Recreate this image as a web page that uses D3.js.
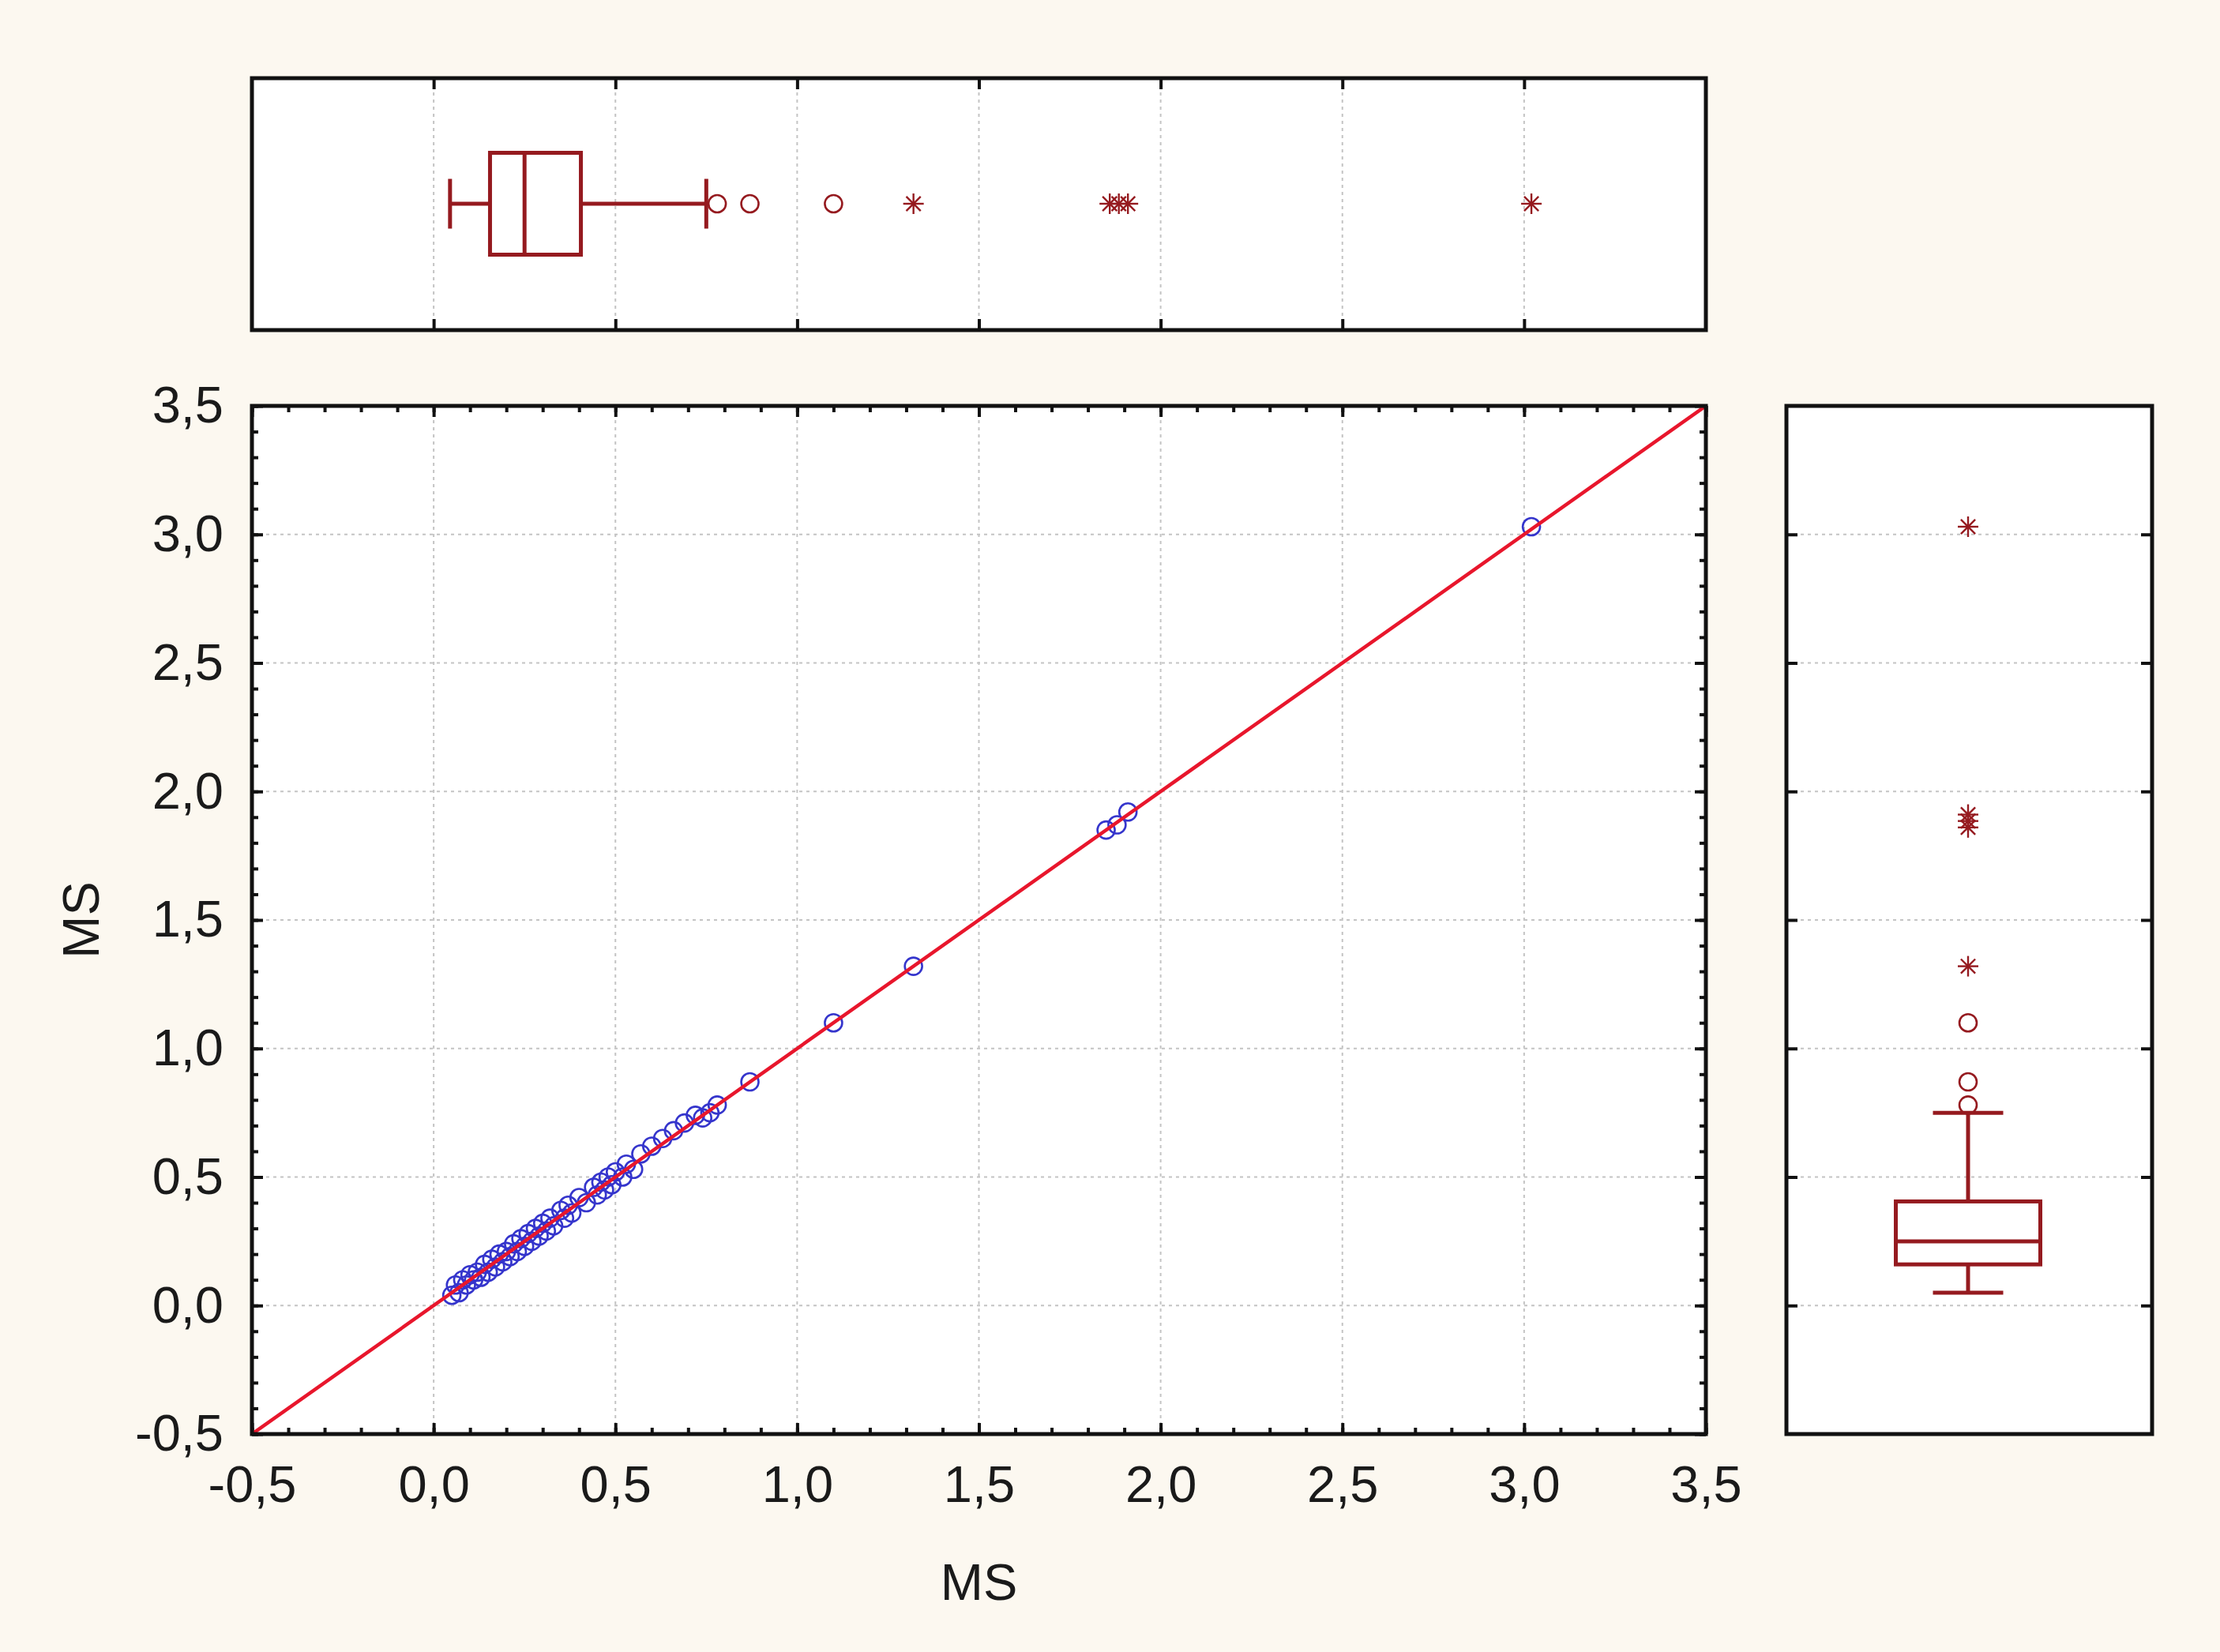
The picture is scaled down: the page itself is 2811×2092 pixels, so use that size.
<!DOCTYPE html>
<html>
<head>
<meta charset="utf-8">
<script src="https://cdn.jsdelivr.net/npm/d3@7"></script>
<style>
  body { margin: 0; background: #fcf8f0; }
  svg { display: block; }
  text { font-family: "Liberation Sans", Arial, sans-serif; fill: #1a1a1a; }
</style>
</head>
<body>
<div id="chart"></div>
<script>
// scatter points (MS vs MS)
const msX = [0.05, 0.06, 0.07, 0.08, 0.09, 0.10, 0.11, 0.12, 0.13, 0.14, 0.15, 0.16, 0.17, 0.18, 0.19,
  0.20, 0.21, 0.22, 0.23, 0.24, 0.25, 0.26, 0.27, 0.28, 0.29, 0.30, 0.31, 0.32, 0.33, 0.35, 0.36,
  0.37, 0.38, 0.40, 0.42, 0.44, 0.45, 0.46, 0.47, 0.48, 0.49, 0.50, 0.52, 0.53, 0.55, 0.57, 0.60,
  0.63, 0.66, 0.69, 0.72, 0.74, 0.76, 0.78, 0.87, 1.10, 1.32, 1.85, 1.88, 1.91, 3.02];
const msY = [0.04, 0.08, 0.05, 0.10, 0.08, 0.12, 0.10, 0.13, 0.11, 0.16, 0.13, 0.18, 0.15, 0.20, 0.17,
  0.21, 0.19, 0.24, 0.21, 0.26, 0.23, 0.28, 0.25, 0.30, 0.27, 0.32, 0.29, 0.34, 0.31, 0.37, 0.34,
  0.39, 0.36, 0.42, 0.40, 0.46, 0.43, 0.48, 0.45, 0.50, 0.47, 0.52, 0.50, 0.55, 0.53, 0.59, 0.62,
  0.65, 0.68, 0.71, 0.74, 0.73, 0.75, 0.78, 0.87, 1.10, 1.32, 1.85, 1.87, 1.92, 3.03];

// box plot summaries: [whisker low, q1, median, q3, whisker high]
const boxX = [0.045, 0.155, 0.25, 0.405, 0.75];
const boxY = [0.05, 0.16, 0.25, 0.405, 0.75];
const outliersX = [0.78, 0.87, 1.10];
const outliersY = [0.78, 0.87, 1.10];
const extremesX = [1.32, 1.86, 1.885, 1.91, 3.02];
const extremesY = [1.32, 1.86, 1.885, 1.91, 3.03];

const axisDomain = [-0.5, 3.5];
const majorTicks = [-0.5, 0, 0.5, 1, 1.5, 2, 2.5, 3, 3.5];
const gridTicks = [0, 0.5, 1, 1.5, 2, 2.5, 3];
const tickLabels = ["-0,5", "0,0", "0,5", "1,0", "1,5", "2,0", "2,5", "3,0", "3,5"];
const xTitle = "MS";
const yTitle = "MS";

const width = 2811, height = 2092;
const main = { left: 319, right: 2160, top: 514, bottom: 1816 };
const topPanel = { top: 99, bottom: 418 };
const sidePanel = { left: 2262, right: 2725 };

const boxRed = "#951a1f";
const fontSize = 65;

const svg = d3.select("#chart").append("svg")
  .attr("width", width).attr("height", height);

svg.append("rect").attr("width", width).attr("height", height).attr("fill", "#fcf8f0");

const x = d3.scaleLinear().domain(axisDomain).range([main.left, main.right]);
const y = d3.scaleLinear().domain(axisDomain).range([main.bottom, main.top]);
const minorTicks = d3.range(-0.5, 3.5001, 0.1).map((d) => +d.toFixed(2));
const fmt = (d) => tickLabels[majorTicks.indexOf(d)];

// panel backgrounds
svg.append("rect").attr("x", main.left).attr("y", main.top)
  .attr("width", main.right - main.left).attr("height", main.bottom - main.top).attr("fill", "#fff");
svg.append("rect").attr("x", main.left).attr("y", topPanel.top)
  .attr("width", main.right - main.left).attr("height", topPanel.bottom - topPanel.top).attr("fill", "#fff");
svg.append("rect").attr("x", sidePanel.left).attr("y", main.top)
  .attr("width", sidePanel.right - sidePanel.left).attr("height", main.bottom - main.top).attr("fill", "#fff");

// grid lines
const grid = svg.append("g").attr("stroke", "#c4c4c4").attr("stroke-width", 2)
  .attr("stroke-dasharray", "4,5");
gridTicks.forEach((t) => {
  grid.append("line").attr("x1", x(t)).attr("x2", x(t)).attr("y1", main.top).attr("y2", main.bottom);
  grid.append("line").attr("x1", main.left).attr("x2", main.right).attr("y1", y(t)).attr("y2", y(t));
  grid.append("line").attr("x1", x(t)).attr("x2", x(t)).attr("y1", topPanel.top).attr("y2", topPanel.bottom);
  grid.append("line").attr("x1", sidePanel.left).attr("x2", sidePanel.right).attr("y1", y(t)).attr("y2", y(t));
});

// axes helper
function styleAxis(g) {
  g.select(".domain").remove();
  g.selectAll(".tick line").attr("stroke", "#111").attr("stroke-width", 4);
  g.selectAll("text").attr("font-size", fontSize).attr("fill", "#1a1a1a")
    .attr("font-family", "'Liberation Sans', Arial, sans-serif");
}

// main plot: bottom axis with labels
svg.append("g").attr("transform", `translate(0,${main.bottom})`)
  .call(d3.axisBottom(x).tickValues(majorTicks).tickSize(-14).tickPadding(40).tickFormat(fmt))
  .call(styleAxis);
svg.append("g").attr("transform", `translate(0,${main.bottom})`)
  .call(d3.axisBottom(x).tickValues(minorTicks).tickSize(-8).tickFormat(""))
  .call(styleAxis);
// main plot: left axis with labels
svg.append("g").attr("transform", `translate(${main.left},0)`)
  .call(d3.axisLeft(y).tickValues(majorTicks).tickSize(-14).tickPadding(36).tickFormat(fmt))
  .call(styleAxis);
svg.append("g").attr("transform", `translate(${main.left},0)`)
  .call(d3.axisLeft(y).tickValues(minorTicks).tickSize(-8).tickFormat(""))
  .call(styleAxis);
// main plot: top and right ticks
svg.append("g").attr("transform", `translate(0,${main.top})`)
  .call(d3.axisTop(x).tickValues(majorTicks).tickSize(-14).tickFormat(""))
  .call(styleAxis);
svg.append("g").attr("transform", `translate(0,${main.top})`)
  .call(d3.axisTop(x).tickValues(minorTicks).tickSize(-8).tickFormat(""))
  .call(styleAxis);
svg.append("g").attr("transform", `translate(${main.right},0)`)
  .call(d3.axisRight(y).tickValues(majorTicks).tickSize(-14).tickFormat(""))
  .call(styleAxis);
svg.append("g").attr("transform", `translate(${main.right},0)`)
  .call(d3.axisRight(y).tickValues(minorTicks).tickSize(-8).tickFormat(""))
  .call(styleAxis);

// top panel ticks
svg.append("g").attr("transform", `translate(0,${topPanel.top})`)
  .call(d3.axisTop(x).tickValues(gridTicks).tickSize(-14).tickFormat(""))
  .call(styleAxis);
svg.append("g").attr("transform", `translate(0,${topPanel.bottom})`)
  .call(d3.axisBottom(x).tickValues(gridTicks).tickSize(-14).tickFormat(""))
  .call(styleAxis);
// side panel ticks
svg.append("g").attr("transform", `translate(${sidePanel.left},0)`)
  .call(d3.axisLeft(y).tickValues(gridTicks).tickSize(-14).tickFormat(""))
  .call(styleAxis);
svg.append("g").attr("transform", `translate(${sidePanel.right},0)`)
  .call(d3.axisRight(y).tickValues(gridTicks).tickSize(-14).tickFormat(""))
  .call(styleAxis);

// clip for the main panel
svg.append("clipPath").attr("id", "mainClip").append("rect")
  .attr("x", main.left).attr("y", main.top)
  .attr("width", main.right - main.left).attr("height", main.bottom - main.top);

// scatter points
const points = msX.map((d, i) => ({ x: d, y: msY[i] }));
svg.append("g").attr("clip-path", "url(#mainClip)")
  .selectAll("circle").data(points).enter().append("circle")
  .attr("cx", (d) => x(d.x)).attr("cy", (d) => y(d.y)).attr("r", 11)
  .attr("fill", "none").attr("stroke", "#3535cc").attr("stroke-width", 2.6);

// identity line
const line = d3.line().x((d) => x(d)).y((d) => y(d));
svg.append("path").datum(axisDomain).attr("d", line)
  .attr("clip-path", "url(#mainClip)")
  .attr("stroke", "#e8162c").attr("stroke-width", 4.5).attr("fill", "none");

// asterisk marker
function asterisk(g, cx, cy, s) {
  const a = g.append("g").attr("stroke", boxRed).attr("stroke-width", 2.4);
  a.append("line").attr("x1", cx - s).attr("x2", cx + s).attr("y1", cy).attr("y2", cy);
  a.append("line").attr("x1", cx).attr("x2", cx).attr("y1", cy - s).attr("y2", cy + s);
  const k = s * 0.7;
  a.append("line").attr("x1", cx - k).attr("x2", cx + k).attr("y1", cy - k).attr("y2", cy + k);
  a.append("line").attr("x1", cx - k).attr("x2", cx + k).attr("y1", cy + k).attr("y2", cy - k);
}

// top box plot (horizontal)
const tb = svg.append("g");
const cy = 258, boxH = 129, capH = 63;
tb.append("line").attr("x1", x(boxX[0])).attr("x2", x(boxX[1])).attr("y1", cy).attr("y2", cy)
  .attr("stroke", boxRed).attr("stroke-width", 5);
tb.append("line").attr("x1", x(boxX[3])).attr("x2", x(boxX[4])).attr("y1", cy).attr("y2", cy)
  .attr("stroke", boxRed).attr("stroke-width", 5);
[boxX[0], boxX[4]].forEach((v) => {
  tb.append("line").attr("x1", x(v)).attr("x2", x(v)).attr("y1", cy - capH / 2).attr("y2", cy + capH / 2)
    .attr("stroke", boxRed).attr("stroke-width", 5);
});
tb.append("rect").attr("x", x(boxX[1])).attr("y", cy - boxH / 2)
  .attr("width", x(boxX[3]) - x(boxX[1])).attr("height", boxH)
  .attr("fill", "none").attr("stroke", boxRed).attr("stroke-width", 5);
tb.append("line").attr("x1", x(boxX[2])).attr("x2", x(boxX[2])).attr("y1", cy - boxH / 2).attr("y2", cy + boxH / 2)
  .attr("stroke", boxRed).attr("stroke-width", 5);
tb.selectAll("circle").data(outliersX).enter().append("circle")
  .attr("cx", (d) => x(d)).attr("cy", cy).attr("r", 11)
  .attr("fill", "none").attr("stroke", boxRed).attr("stroke-width", 2.6);
extremesX.forEach((v) => asterisk(tb, x(v), cy, 13));

// side box plot (vertical)
const sb = svg.append("g");
const cx = 2492, boxW = 183, capW = 89;
sb.append("line").attr("x1", cx).attr("x2", cx).attr("y1", y(boxY[0])).attr("y2", y(boxY[1]))
  .attr("stroke", boxRed).attr("stroke-width", 5);
sb.append("line").attr("x1", cx).attr("x2", cx).attr("y1", y(boxY[3])).attr("y2", y(boxY[4]))
  .attr("stroke", boxRed).attr("stroke-width", 5);
[boxY[0], boxY[4]].forEach((v) => {
  sb.append("line").attr("x1", cx - capW / 2).attr("x2", cx + capW / 2).attr("y1", y(v)).attr("y2", y(v))
    .attr("stroke", boxRed).attr("stroke-width", 5);
});
sb.append("rect").attr("x", cx - boxW / 2).attr("y", y(boxY[3]))
  .attr("width", boxW).attr("height", y(boxY[1]) - y(boxY[3]))
  .attr("fill", "none").attr("stroke", boxRed).attr("stroke-width", 5);
sb.append("line").attr("x1", cx - boxW / 2).attr("x2", cx + boxW / 2).attr("y1", y(boxY[2])).attr("y2", y(boxY[2]))
  .attr("stroke", boxRed).attr("stroke-width", 5);
sb.selectAll("circle").data(outliersY).enter().append("circle")
  .attr("cx", cx).attr("cy", (d) => y(d)).attr("r", 11)
  .attr("fill", "none").attr("stroke", boxRed).attr("stroke-width", 2.6);
extremesY.forEach((v) => asterisk(sb, cx, y(v), 13));

// frames
const frame = svg.append("g").attr("fill", "none").attr("stroke", "#111").attr("stroke-width", 5);
frame.append("rect").attr("x", main.left).attr("y", main.top)
  .attr("width", main.right - main.left).attr("height", main.bottom - main.top);
frame.append("rect").attr("x", main.left).attr("y", topPanel.top)
  .attr("width", main.right - main.left).attr("height", topPanel.bottom - topPanel.top);
frame.append("rect").attr("x", sidePanel.left).attr("y", main.top)
  .attr("width", sidePanel.right - sidePanel.left).attr("height", main.bottom - main.top);

// axis titles
svg.append("text").attr("x", (main.left + main.right) / 2).attr("y", 2026)
  .attr("text-anchor", "middle").attr("font-size", fontSize).text(xTitle);
svg.append("text").attr("transform", `translate(125,${(main.top + main.bottom) / 2}) rotate(-90)`)
  .attr("text-anchor", "middle").attr("font-size", fontSize).text(yTitle);
</script>
</body>
</html>
